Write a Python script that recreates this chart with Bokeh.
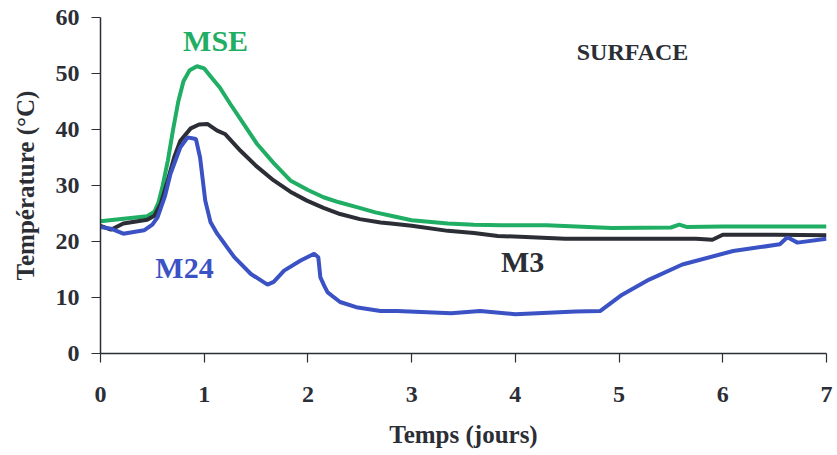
from bokeh.plotting import figure
from bokeh.models import Range1d, FixedTicker
from bokeh.core.properties import value
from bokeh.embed import file_html
from bokeh.resources import INLINE

# ---- data ----
mse_t = [0, 0.2, 0.45, 0.52, 0.56, 0.6, 0.65, 0.7, 0.75, 0.8, 0.86, 0.93, 1.0, 1.06, 1.15, 1.25,
         1.38, 1.51, 1.67, 1.83, 2.0, 2.15, 2.3, 2.48, 2.65, 2.8, 3.0, 3.35, 3.6, 3.87, 4.3, 4.93,
         5.5, 5.58, 5.65, 6.0, 7.0]
mse_v = [23.6, 24.0, 24.5, 25.3, 27, 30, 34.5, 40, 45, 48.6, 50.6, 51.3, 50.9, 49.5, 47.5, 44.6,
         41, 37.4, 34, 30.9, 29.2, 27.9, 27, 26.1, 25.2, 24.6, 23.8, 23.2, 23.0, 22.9, 22.9, 22.4,
         22.5, 23.0, 22.6, 22.7, 22.7]

m3_t = [0, 0.1, 0.22, 0.45, 0.52, 0.58, 0.65, 0.71, 0.77, 0.87, 0.95, 1.03, 1.125, 1.2, 1.35, 1.5,
        1.67, 1.83, 1.99, 2.15, 2.31, 2.5, 2.7, 2.8, 3.0, 3.35, 3.6, 3.83, 4.1, 4.48, 5.0, 5.74,
        5.9, 6.0, 6.5, 7.0]
m3_v = [22.8, 22.1, 23.2, 23.9, 24.6, 26.7, 31, 35, 38, 40.2, 40.9, 41, 39.8, 39.2, 36.2, 33.5,
        30.9, 28.9, 27.3, 26, 24.9, 24.0, 23.4, 23.2, 22.8, 21.9, 21.5, 21.0, 20.8, 20.5, 20.5, 20.5,
        20.3, 21.2, 21.2, 21.1]

m24_t = [0, 0.1, 0.22, 0.42, 0.5, 0.55, 0.62, 0.675, 0.77, 0.84, 0.92, 0.96, 1.01, 1.06, 1.125, 1.2,
         1.29, 1.45, 1.61, 1.67, 1.77, 1.93, 2.06, 2.1, 2.12, 2.16, 2.19, 2.31, 2.48, 2.7, 2.86, 3.38,
         3.66, 4.0, 4.58, 4.82, 5.03, 5.29, 5.61, 6.1, 6.55, 6.62, 6.65, 6.72, 7.0]
m24_v = [22.6, 22.3, 21.4, 22.0, 23, 24.3, 28, 32.1, 36.8, 38.6, 38.3, 35, 27.3, 23.5, 21.4, 19.5,
         17.2, 14.2, 12.3, 12.8, 14.8, 16.6, 17.8, 17.2, 13.6, 12, 10.9, 9.2, 8.2, 7.6, 7.6, 7.2,
         7.6, 7.0, 7.5, 7.6, 10.5, 13.2, 15.9, 18.3, 19.5, 20.7, 20.5, 19.8, 20.5]

x_ticks = [0, 1, 2, 3, 4, 5, 6, 7]
y_ticks = [0, 10, 20, 30, 40, 50, 60]

labels = ["MSE", "M24", "M3", "SURFACE"]

# ---- styles / positions ----
GREEN = "#1fae63"
BLUE = "#3b52c4"
DARK = "#2b2e35"
FONT = "Liberation Serif"

p = figure(width=837, height=455, output_backend="svg", toolbar_location=None,
           x_range=Range1d(0, 7), y_range=Range1d(0, 60),
           min_border_left=100, min_border_right=11, min_border_top=17, min_border_bottom=102)
p.outline_line_color = None
p.grid.visible = False
p.background_fill_color = "white"
p.border_fill_color = "white"

p.line(mse_t, mse_v, line_color=GREEN, line_width=4)
p.line(m3_t, m3_v, line_color=DARK, line_width=4)
p.line(m24_t, m24_v, line_color=BLUE, line_width=4)

for ax in (p.xaxis[0], p.yaxis[0]):
    ax.axis_line_color = DARK
    ax.axis_line_width = 1.5
    ax.major_tick_line_color = DARK
    ax.major_tick_line_width = 1.2
    ax.major_tick_in = 0
    ax.major_tick_out = 9
    ax.minor_tick_line_color = None
    ax.major_label_text_font = FONT
    ax.major_label_text_font_style = "bold"
    ax.major_label_text_font_size = "24px"
    ax.major_label_text_color = DARK
    ax.axis_label_text_font = FONT
    ax.axis_label_text_font_style = "bold"
    ax.axis_label_text_font_size = "25px"
    ax.axis_label_text_color = DARK

p.xaxis[0].ticker = FixedTicker(ticks=x_ticks)
p.yaxis[0].ticker = FixedTicker(ticks=y_ticks)
p.xaxis[0].axis_label = "Temps (jours)"
p.yaxis[0].axis_label = "Température (°C)"
p.xaxis[0].major_label_standoff = 24
p.yaxis[0].major_label_standoff = 12
p.xaxis[0].axis_label_standoff = 16
p.yaxis[0].axis_label_standoff = 14

lab_x = [1.11, 0.81, 4.07, 5.13]
lab_y = [55.9, 15.4, 16.4, 53.8]
lab_col = [GREEN, BLUE, DARK, DARK]
lab_size = ["30px", "30px", "30px", "24px"]
for t, x, y, c, s in zip(labels, lab_x, lab_y, lab_col, lab_size):
    p.text(x=[x], y=[y], text=[t], text_color=c, text_font=value(FONT),
           text_font_style="bold", text_font_size=s, text_align="center",
           text_baseline="middle")

open("out.html", "w").write(file_html(p, INLINE))
